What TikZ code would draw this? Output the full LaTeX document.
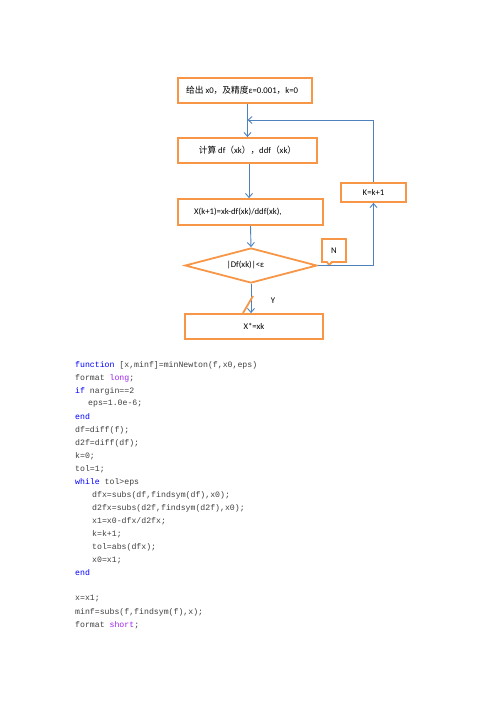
\documentclass[tikz,border=0pt]{standalone}
\usepackage{fontspec}
\setmainfont{Carlito}
\setmonofont{Liberation Mono}
\newfontfamily\cjk{Noto Sans CJK SC}
\usetikzlibrary{arrows.meta,shapes.geometric}
\definecolor{boxorange}{HTML}{F79646}
\definecolor{linkblue}{HTML}{4F81BD}
\definecolor{kwblue}{HTML}{0000FF}
\definecolor{strpurple}{HTML}{A020F0}
\definecolor{codegray}{HTML}{404040}
\tikzset{
  flowbox/.style={draw=boxorange, line width=1.8pt, rectangle, inner sep=0pt, font=\fontsize{8.7}{10}\selectfont},
  decision/.style={draw=boxorange, line width=1.8pt, diamond, inner sep=0pt, font=\fontsize{8.7}{10}\selectfont},
  link/.style={draw=linkblue, line width=0.9pt, -{Straight Barb[length=4pt,width=7pt]}},
  lbl/.style={inner sep=0pt, font=\fontsize{8.7}{10}\selectfont},
  code/.style={anchor=west, inner sep=0pt, text=codegray, font=\ttfamily\fontsize{8.2}{10}\selectfont},
}
\newcommand{\kw}[1]{\textcolor{kwblue}{#1}}
\newcommand{\st}[1]{\textcolor{strpurple}{#1}}
\begin{document}
\begin{tikzpicture}[x=1pt,y=-1pt]
\useasboundingbox (0,0) rectangle (496,702);
% flowchart boxes
\node[flowbox, minimum width=134pt, minimum height=25pt] (b1) at (245,90.5) {};
\node[lbl, anchor=west] (t1) at (186,90.5) {{\cjk 给出} x0{\cjk ，及精度}ε=0.001{\cjk ，}k=0};
\node[flowbox, minimum width=139pt, minimum height=25pt] (b2) at (247.5,150.5) {{\cjk 计算} df{\cjk （}xk{\cjk ），}ddf{\cjk （}xk{\cjk ）}};
\node[flowbox, minimum width=145pt, minimum height=26pt] (b3) at (250.5,212) {};
\node[lbl, anchor=west] (t3) at (194,212) {X(k+1)=xk-df(xk)/ddf(xk),};
\node[decision, minimum width=132pt, minimum height=35pt, aspect=3.77] (dia) at (251,265.5) {};
\node[lbl] (t4) at (245.5,265.5) {|Df(xk)|<ε};
\node[flowbox, minimum width=138pt, minimum height=25pt] (b4) at (254,326.5) {X*=xk};
\node[flowbox, minimum width=65pt, minimum height=19pt] (kb) at (373.5,192.5) {K=k+1};
% N callout
\node[lbl] (nl) at (334,250.5) {N};
\draw[boxorange, line width=1.8pt, line join=miter] (322,239) -- (346,239) -- (346,262) -- (332,262) -- (329,265) -- (327,262) -- (322,262) -- cycle;
\node[lbl] (yl) at (273,301) {Y};
% connectors
\coordinate (j) at (247.5,120);
\draw[link] (b1.south -| b2.north) -- (b2.north);
\draw[link] (b2.south) ++(1.5,0) -- ([xshift=-1.5pt]b3.north);
\draw[link] (b3.south) -- (dia.north);
\draw[link] (dia.south) -- (dia.south |- b4.north);
\draw[link] (dia.east) -| (kb.south);
\draw[link] (kb.north) |- (j);
% orange slash
\draw[boxorange, line width=1.8pt] (243,313) -- (253,296);
% code
\node[code] (c1) at (75,365) {\kw{function} [x,minf]=minNewton(f,x0,eps)};
\node[code] (c2) at (75,378) {format \st{long};};
\node[code] (c3) at (75,391) {\kw{if} nargin==2};
\node[code] (c4) at (88,404) {eps=1.0e-6;};
\node[code] (c5) at (75,417) {\kw{end}};
\node[code] (c6) at (75,430) {df=diff(f);};
\node[code] (c7) at (75,443) {d2f=diff(df);};
\node[code] (c8) at (75,456) {k=0;};
\node[code] (c9) at (75,469) {tol=1;};
\node[code] (c10) at (75,482) {\kw{while} tol>eps};
\node[code] (c11) at (92,495) {dfx=subs(df,findsym(df),x0);};
\node[code] (c12) at (92,508) {d2fx=subs(d2f,findsym(d2f),x0);};
\node[code] (c13) at (92,521) {x1=x0-dfx/d2fx;};
\node[code] (c14) at (92,534) {k=k+1;};
\node[code] (c15) at (92,547) {tol=abs(dfx);};
\node[code] (c16) at (92,560) {x0=x1;};
\node[code] (c17) at (75,573) {\kw{end}};
\node[code] (c18) at (75,599) {x=x1;};
\node[code] (c19) at (75,612) {minf=subs(f,findsym(f),x);};
\node[code] (c20) at (75,625) {format \st{short};};
\end{tikzpicture}
\end{document}
